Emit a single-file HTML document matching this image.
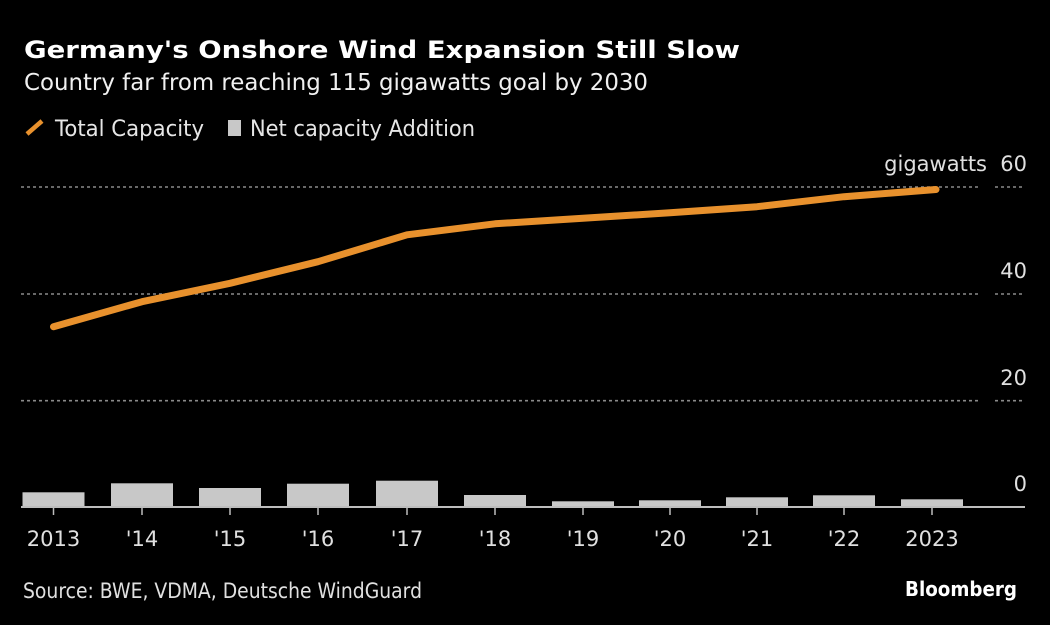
<!DOCTYPE html>
<html>
<head>
<meta charset="utf-8">
<style>
html,body{margin:0;padding:0;background:#000;}
svg{display:block;}
</style>
</head>
<body>
<svg width="1050" height="625" viewBox="0 0 1050 625" xmlns="http://www.w3.org/2000/svg">
<rect width="1050" height="625" fill="#000"/>
<!-- Title -->
<text x="24" y="58" font-family="DejaVu Sans, Liberation Sans, sans-serif" font-weight="bold" font-size="24" fill="#ffffff" textLength="716" lengthAdjust="spacingAndGlyphs">Germany's Onshore Wind Expansion Still Slow</text>
<text x="24" y="90" font-family="DejaVu Sans, Liberation Sans, sans-serif" font-size="23" fill="#f0f0f0" textLength="624" lengthAdjust="spacingAndGlyphs">Country far from reaching 115 gigawatts goal by 2030</text>
<!-- Legend -->
<line x1="27" y1="134" x2="42" y2="121" stroke="#e8912d" stroke-width="4.5" stroke-linecap="butt"/>
<text x="55" y="136" font-family="DejaVu Sans, Liberation Sans, sans-serif" font-size="22" fill="#e6e6e6" textLength="149" lengthAdjust="spacingAndGlyphs">Total Capacity</text>
<rect x="228" y="120" width="13" height="16" fill="#c8c8c8"/>
<text x="250" y="136" font-family="DejaVu Sans, Liberation Sans, sans-serif" font-size="22" fill="#e6e6e6" textLength="225" lengthAdjust="spacingAndGlyphs">Net capacity Addition</text>
<!-- Gridlines -->
<g stroke="#8a8a8a" stroke-width="1.6" stroke-dasharray="3 3">
<line x1="21" y1="187" x2="980" y2="187"/>
<line x1="995" y1="187" x2="1025" y2="187"/>
<line x1="21" y1="294" x2="980" y2="294"/>
<line x1="995" y1="294" x2="1025" y2="294"/>
<line x1="21" y1="400.7" x2="980" y2="400.7"/>
<line x1="995" y1="400.7" x2="1025" y2="400.7"/>
</g>
<!-- Y labels -->
<g font-family="DejaVu Sans, Liberation Sans, sans-serif" font-size="21" fill="#e0e0e0" text-anchor="end">
<text x="987" y="171">gigawatts</text>
<text x="1027" y="171">60</text>
<text x="1027" y="278">40</text>
<text x="1027" y="385">20</text>
<text x="1027" y="491">0</text>
</g>
<!-- Bars -->
<g fill="#c8c8c8">
<rect x="22.5" y="492.3" width="62" height="14.2"/>
<rect x="111" y="483.3" width="62" height="23.2"/>
<rect x="199" y="488" width="62" height="18.5"/>
<rect x="287" y="483.7" width="62" height="22.8"/>
<rect x="376" y="480.7" width="62" height="25.8"/>
<rect x="464" y="495" width="62" height="11.5"/>
<rect x="552" y="501.3" width="62" height="5.2"/>
<rect x="639" y="500.3" width="62" height="6.2"/>
<rect x="726" y="497.3" width="62" height="9.2"/>
<rect x="813" y="495.3" width="62" height="11.2"/>
<rect x="901" y="499.3" width="62" height="7.2"/>
</g>
<!-- Baseline -->
<line x1="21" y1="507" x2="1025" y2="507" stroke="#bdbdbd" stroke-width="2"/>
<!-- Ticks -->
<g stroke="#bdbdbd" stroke-width="1.5">
<line x1="53.5" y1="508" x2="53.5" y2="515"/>
<line x1="142" y1="508" x2="142" y2="515"/>
<line x1="230" y1="508" x2="230" y2="515"/>
<line x1="318" y1="508" x2="318" y2="515"/>
<line x1="407" y1="508" x2="407" y2="515"/>
<line x1="495" y1="508" x2="495" y2="515"/>
<line x1="583" y1="508" x2="583" y2="515"/>
<line x1="670" y1="508" x2="670" y2="515"/>
<line x1="757" y1="508" x2="757" y2="515"/>
<line x1="844" y1="508" x2="844" y2="515"/>
<line x1="932" y1="508" x2="932" y2="515"/>
</g>
<!-- X labels -->
<g font-family="DejaVu Sans, Liberation Sans, sans-serif" font-size="21" fill="#e0e0e0" text-anchor="middle">
<text x="53.5" y="546">2013</text>
<text x="142" y="546">'14</text>
<text x="230" y="546">'15</text>
<text x="318" y="546">'16</text>
<text x="407" y="546">'17</text>
<text x="495" y="546">'18</text>
<text x="583" y="546">'19</text>
<text x="670" y="546">'20</text>
<text x="757" y="546">'21</text>
<text x="844" y="546">'22</text>
<text x="932" y="546">2023</text>
</g>
<!-- Line -->
<polyline fill="none" stroke="#e8912d" stroke-width="7" stroke-linejoin="round" stroke-linecap="round"
points="53.5,326.7 142,301.7 230,283.3 318,261.7 407,234.8 495,223.8 583,218.3 670,212.7 757,206.7 844,196.7 936,189.5"/>
<!-- Footer -->
<text x="23" y="598" font-family="DejaVu Sans, Liberation Sans, sans-serif" font-size="21" fill="#e0e0e0" textLength="399" lengthAdjust="spacingAndGlyphs">Source: BWE, VDMA, Deutsche WindGuard</text>
<text x="905" y="596" font-family="DejaVu Sans, Liberation Sans, sans-serif" font-weight="bold" font-size="20" fill="#ffffff" textLength="112" lengthAdjust="spacingAndGlyphs">Bloomberg</text>
</svg>
</body>
</html>
